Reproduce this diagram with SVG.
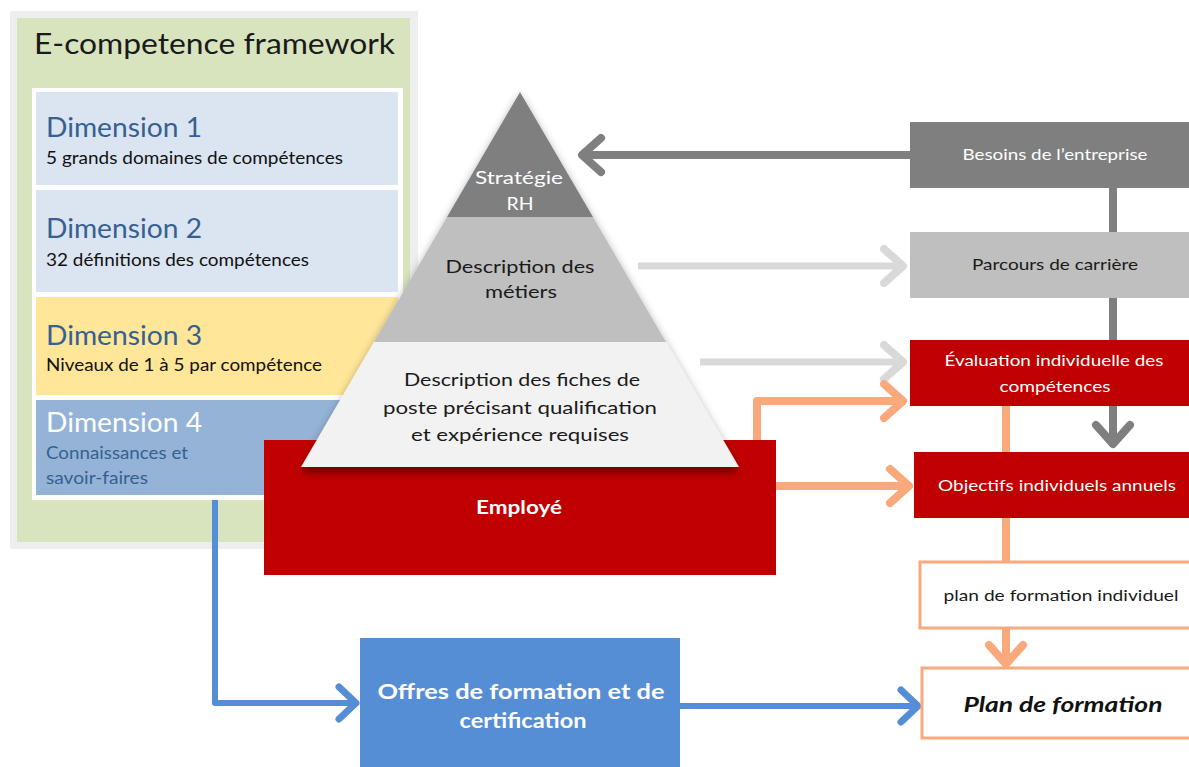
<svg xmlns="http://www.w3.org/2000/svg" width="1189" height="767" viewBox="0 0 1189 767">
<style>
text{font-family:Lato,"Liberation Sans",Arial,sans-serif}
.dimh{font-size:26px;fill:#366092}
.dims{font-size:17.5px;fill:#111}
.pyr{font-size:18px;fill:#1a1a1a;text-anchor:middle}
.rt{font-size:16px;text-anchor:middle}
.ln{fill:none;stroke-linecap:butt}
</style>
<defs>
<filter id="sh" x="-20%" y="-20%" width="140%" height="150%">
<feDropShadow dx="0" dy="5" stdDeviation="5" flood-color="#000" flood-opacity="0.45"/>
</filter>
<marker id="mDark" markerUnits="userSpaceOnUse" viewBox="-30 -25 40 50" refX="0" refY="0" markerWidth="40" markerHeight="50" orient="auto" overflow="visible">
<path d="M-19,-17 L0,0 L-19,17" fill="none" stroke="#7f7f7f" stroke-width="8" stroke-linecap="round" stroke-linejoin="round"/>
</marker>
<marker id="mLight" markerUnits="userSpaceOnUse" viewBox="-30 -25 40 50" refX="0" refY="0" markerWidth="40" markerHeight="50" orient="auto" overflow="visible">
<path d="M-19,-17 L0,0 L-19,17" fill="none" stroke="#d9d9d9" stroke-width="8" stroke-linecap="round" stroke-linejoin="round"/>
</marker>
<marker id="mOr" markerUnits="userSpaceOnUse" viewBox="-30 -25 40 50" refX="0" refY="0" markerWidth="40" markerHeight="50" orient="auto" overflow="visible">
<path d="M-19,-17 L0,0 L-19,17" fill="none" stroke="#f9a97b" stroke-width="8" stroke-linecap="round" stroke-linejoin="round"/>
</marker>
<marker id="mBlue" markerUnits="userSpaceOnUse" viewBox="-30 -25 40 50" refX="0" refY="0" markerWidth="40" markerHeight="50" orient="auto" overflow="visible">
<path d="M-17,-16 L0,0 L-17,16" fill="none" stroke="#558ed5" stroke-width="7" stroke-linecap="round" stroke-linejoin="round"/>
</marker>
</defs>
<rect width="1189" height="767" fill="#fff"/>

<g id="framework">
<rect x="10" y="11" width="408" height="538" fill="#eeeeee"/>
<rect x="17" y="18" width="393" height="524" fill="#d8e4bd"/>
<text x="34" y="54" font-size="29" fill="#1a1a1a" textLength="361" lengthAdjust="spacingAndGlyphs">E-competence framework</text>
<rect x="32" y="88" width="371" height="412" fill="#ffffff"/>
</g>
<g id="dim1">
<rect x="36" y="92" width="362" height="93" fill="#dbe5f1"/>
<text class="dimh" x="46" y="137" textLength="156" lengthAdjust="spacingAndGlyphs">Dimension 1</text>
<text class="dims" x="46" y="164" textLength="297" lengthAdjust="spacingAndGlyphs">5 grands domaines de compétences</text>
</g>
<g id="dim2">
<rect x="36" y="190" width="362" height="102" fill="#dbe5f1"/>
<text class="dimh" x="46" y="238" textLength="156" lengthAdjust="spacingAndGlyphs">Dimension 2</text>
<text class="dims" x="46" y="266" textLength="263" lengthAdjust="spacingAndGlyphs">32 définitions des compétences</text>
</g>
<g id="dim3">
<rect x="36" y="297" width="362" height="98" fill="#ffe699"/>
<text class="dimh" x="46" y="345" textLength="156" lengthAdjust="spacingAndGlyphs">Dimension 3</text>
<text class="dims" x="46" y="371" textLength="276" lengthAdjust="spacingAndGlyphs">Niveaux de 1 à 5 par compétence</text>
</g>
<g id="dim4">
<rect x="36" y="400" width="362" height="95" fill="#95b3d7"/>
<text class="dimh" x="46" y="432" style="fill:#fff" textLength="156" lengthAdjust="spacingAndGlyphs">Dimension 4</text>
<text x="46" y="459" font-size="17" fill="#366092" textLength="142" lengthAdjust="spacingAndGlyphs">Connaissances et</text>
<text x="46" y="484" font-size="17" fill="#366092" textLength="102" lengthAdjust="spacingAndGlyphs">savoir-faires</text>
</g>

<g id="connectors">
<line class="ln" x1="910" y1="155" x2="582" y2="155" stroke="#7f7f7f" stroke-width="8" marker-end="url(#mDark)"/>
<line class="ln" x1="1113" y1="188" x2="1113" y2="444" stroke="#7f7f7f" stroke-width="8" marker-end="url(#mDark)"/>
<line class="ln" x1="638" y1="266" x2="903" y2="266" stroke="#d9d9d9" stroke-width="7" marker-end="url(#mLight)"/>
<line class="ln" x1="700" y1="362" x2="903" y2="362" stroke="#d9d9d9" stroke-width="7" marker-end="url(#mLight)"/>
<path class="ln" d="M757,442 V401 H903" stroke="#f9a97b" stroke-width="8" stroke-linejoin="round" marker-end="url(#mOr)"/>
<line class="ln" x1="776" y1="486" x2="909" y2="486" stroke="#f9a97b" stroke-width="8" marker-end="url(#mOr)"/>
<line class="ln" x1="1006" y1="406" x2="1006" y2="664" stroke="#f9a97b" stroke-width="8" marker-end="url(#mOr)"/>
<path class="ln" d="M215,500 V703 H356" stroke="#558ed5" stroke-width="6" stroke-linejoin="round" marker-end="url(#mBlue)"/>
<line class="ln" x1="680" y1="706" x2="918" y2="706" stroke="#558ed5" stroke-width="6" marker-end="url(#mBlue)"/>
</g>

<g id="employe">
<rect x="264" y="440" width="512" height="135" fill="#c00000"/>
<text x="519" y="514" font-size="19" font-weight="bold" fill="#fff" text-anchor="middle" textLength="86" lengthAdjust="spacingAndGlyphs">Employé</text>
</g>

<g id="pyramide" filter="url(#sh)">
<polygon points="520,92 593,217 447,217" fill="#7f7f7f"/>
<polygon points="447,217 593,217 666,342 374,342" fill="#bfbfbf"/>
<polygon points="374,342 666,342 739,467 301,467" fill="#f2f2f2"/>
</g>
<g id="pyramide-text">
<text class="pyr" x="519" y="184" style="fill:#fff" textLength="88" lengthAdjust="spacingAndGlyphs">Stratégie</text>
<text class="pyr" x="520" y="210" style="fill:#fff" textLength="27" lengthAdjust="spacingAndGlyphs">RH</text>
<text class="pyr" x="520" y="273" textLength="149" lengthAdjust="spacingAndGlyphs">Description des</text>
<text class="pyr" x="521" y="298" textLength="72" lengthAdjust="spacingAndGlyphs">métiers</text>
<text class="pyr" x="522" y="386" textLength="236" lengthAdjust="spacingAndGlyphs">Description des fiches de</text>
<text class="pyr" x="520" y="414" textLength="274" lengthAdjust="spacingAndGlyphs">poste précisant qualification</text>
<text class="pyr" x="520" y="441" textLength="218" lengthAdjust="spacingAndGlyphs">et expérience requises</text>
</g>

<g id="besoins">
<rect x="910" y="122" width="279" height="66" fill="#7f7f7f"/>
<text class="rt" x="1055" y="160" fill="#fff" textLength="185" lengthAdjust="spacingAndGlyphs">Besoins de l’entreprise</text>
</g>
<g id="parcours">
<rect x="910" y="232" width="279" height="66" fill="#bfbfbf"/>
<text class="rt" x="1055" y="270" fill="#1a1a1a" textLength="166" lengthAdjust="spacingAndGlyphs">Parcours de carrière</text>
</g>
<g id="evaluation">
<rect x="910" y="340" width="279" height="66" fill="#c00000"/>
<text class="rt" x="1054" y="366" fill="#fff" textLength="219" lengthAdjust="spacingAndGlyphs">Évaluation individuelle des</text>
<text class="rt" x="1055" y="392" fill="#fff" textLength="111" lengthAdjust="spacingAndGlyphs">compétences</text>
</g>
<g id="objectifs">
<rect x="914" y="452" width="275" height="66" fill="#c00000"/>
<text class="rt" x="1057" y="491" fill="#fff" font-size="17" textLength="238" lengthAdjust="spacingAndGlyphs">Objectifs individuels annuels</text>
</g>
<g id="plan-individuel">
<rect x="920" y="562" width="272" height="66" fill="#fff" stroke="#f9a97b" stroke-width="3"/>
<text class="rt" x="1061" y="601" fill="#1a1a1a" textLength="235" lengthAdjust="spacingAndGlyphs">plan de formation individuel</text>
</g>
<g id="plan-formation">
<rect x="922" y="668" width="272" height="70" fill="#fff" stroke="#f9a97b" stroke-width="3"/>
<text x="1063" y="712" font-size="21" font-weight="bold" font-style="italic" fill="#111" text-anchor="middle" textLength="199" lengthAdjust="spacingAndGlyphs">Plan de formation</text>
</g>
<g id="offres">
<rect x="360" y="638" width="320" height="129" fill="#558ed5"/>
<text x="521" y="699" font-size="21" font-weight="bold" fill="#fff" text-anchor="middle" textLength="287" lengthAdjust="spacingAndGlyphs">Offres de formation et de</text>
<text x="523" y="728" font-size="21" font-weight="bold" fill="#fff" text-anchor="middle" textLength="127" lengthAdjust="spacingAndGlyphs">certification</text>
</g>
</svg>
